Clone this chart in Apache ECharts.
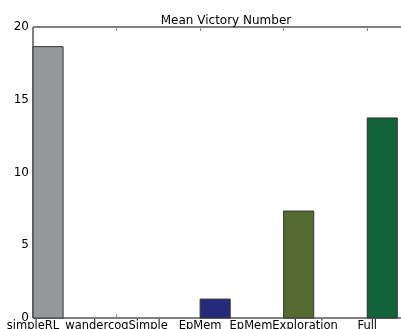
<!DOCTYPE html>
<html>
<head>
<meta charset="utf-8">
<script src="https://cdn.jsdelivr.net/npm/echarts@6/dist/echarts.min.js"></script>
<style>
  html, body { margin: 0; padding: 0; background: #fff; }
  #main { width: 401px; height: 329px; overflow: hidden; }
</style>
</head>
<body>
<div id="main"></div>
<script>
// data
const categories = ["simpleRL", "wandercogSimple", "EpMem", "EpMemExploration", "Full"];
const victories = [18.65, 0, 1.3, 7.35, 13.75];
const barColors = ["#97989c", "#97989c", "#262a7a", "#556b30", "#13633a"];
const yTicks = [0, 5, 10, 15, 20];

const barWidth = 0.36; // bar starts at the tick, like matplotlib's old align='edge'
const xMax = 4.5;      // the axes run on past the right edge of the picture

const chart = echarts.init(document.getElementById("main"));

// the frame comes from the grid border, axes only give ticks and labels
const axisLine = { show: false, onZero: false };
const axisTick = { inside: true, length: 4, lineStyle: { color: "#888" } };

chart.setOption({
  animation: false,
  title: {
    text: "Mean Victory Number",
    left: 221,
    textAlign: "center",
    top: 10,
    textStyle: { fontFamily: "DejaVu Sans", fontSize: 12, fontWeight: "normal", color: "#000" },
  },
  grid: {
    left: 33, right: -8, top: 27, bottom: 11,
    outerBoundsMode: "none", containLabel: false,
    show: true, borderColor: "#000", borderWidth: 1, backgroundColor: "transparent",
  },
  xAxis: [
    {
      type: "value",
      min: 0,
      max: xMax,
      interval: 1,
      splitLine: { show: false },
      axisLine,
      axisTick,
      axisLabel: {
        fontFamily: "DejaVu Sans",
        fontSize: 11.5,
        color: "#000",
        margin: 2,
        showMaxLabel: false,
        formatter: (v) => (Number.isInteger(v) ? categories[v] || "" : ""),
      },
    },
    {
      type: "value",
      position: "top",
      min: 0,
      max: xMax,
      interval: 1,
      splitLine: { show: false },
      axisLine,
      axisTick,
      axisLabel: { show: false },
    },
  ],
  yAxis: [
    {
      type: "value",
      min: 0,
      max: 20,
      interval: 5,
      splitLine: { show: false },
      axisLine,
      axisTick,
      axisLabel: {
        fontFamily: "DejaVu Sans",
        fontSize: 12,
        color: "#000",
        margin: 4,
        formatter: (v) => (yTicks.includes(v) ? String(v) : ""),
      },
    },
  ],
  series: [
    {
      type: "custom",
      data: victories.map((v, i) => [i, v]),
      renderItem: function (params, api) {
        const i = api.value(0);
        const v = api.value(1);
        if (!v) return null;
        const p0 = api.coord([i, 0]);
        const p1 = api.coord([i + barWidth, v]);
        return {
          type: "rect",
          shape: { x: p0[0], y: p1[1], width: p1[0] - p0[0], height: p0[1] - p1[1] },
          style: { fill: barColors[i], stroke: "#333", lineWidth: 1 },
        };
      },
    },
  ],
});
</script>
</body>
</html>
